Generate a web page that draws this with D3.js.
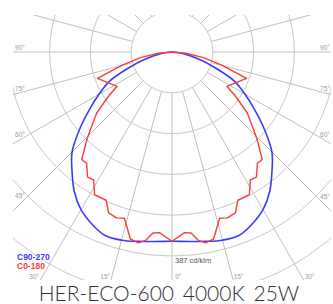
<!DOCTYPE html>
<html>
<head>
<meta charset="utf-8">
<script src="https://cdn.jsdelivr.net/npm/d3@7"></script>
<style>
  body { margin: 0; background: #fff; }
</style>
</head>
<body>
<div id="chart"></div>
<script>
// luminous intensity in cd/klm, angle measured from nadir (deg)
const blueAngles = [0, 5, 10, 15, 20, 25, 30, 35, 40, 45, 50, 55, 60, 65, 70, 75, 80, 85, 90];
const blueValues = [371, 373, 377, 382, 383, 372, 357, 334, 305, 277, 237, 198, 165, 135, 90, 55, 28, 10, 0];

const redAngles = [0, 4, 6, 8, 10, 12.5, 16, 18.5, 21.5, 24, 28.5, 31.5, 34, 37.5, 40, 44, 46, 51, 55, 58, 70.5, 75, 80, 85, 90];
const redValues = [371, 355, 357, 373, 380, 376, 339, 343, 339, 318, 318, 294, 296, 275, 275, 241, 224, 190, 153, 127, 155, 102, 63, 27, 0];

const ringValues = [80, 160, 240, 320, 400, 480, 560];
const spokeAngles = d3.range(0, 360, 15);
const labelAngles = [0, 15, 30, 45, 60, 75, 90];
const legendLabels = ["C90-270", "C0-180"];
const legendColors = ["#3b3bff", "#ff3b3b"];
const scaleText = "387 cd/klm";
const maxValue = 387;
const titleText = "HER-ECO-600 4000K 25W";

const W = 333, H = 304;
const cx = 172, cy = 52;
const plot = { x0: 13, y0: 15, x1: 331, y1: 280 };

const rScale = d3.scaleLinear().domain([0, 400]).range([0, 204]);
const rad = d => d * Math.PI / 180;

const svg = d3.select("#chart").append("svg")
  .attr("width", W).attr("height", H)
  .style("display", "block");

svg.append("clipPath").attr("id", "clip")
  .append("rect")
  .attr("x", plot.x0).attr("y", plot.y0)
  .attr("width", plot.x1 - plot.x0).attr("height", plot.y1 - plot.y0);

const g = svg.append("g").attr("clip-path", "url(#clip)");
const c = g.append("g").attr("transform", `translate(${cx},${cy})`);

// rings
c.selectAll("circle.ring")
  .data(ringValues)
  .enter().append("circle")
  .attr("class", "ring")
  .attr("r", d => rScale(d))
  .attr("fill", "none")
  .attr("stroke", "#c8c8c8")
  .attr("stroke-width", 1);

// spokes start on the inner circle
const r0 = rScale(ringValues[0]);
c.selectAll("line.spoke")
  .data(spokeAngles)
  .enter().append("line")
  .attr("class", "spoke")
  .attr("x1", d => r0 * Math.sin(rad(d)))
  .attr("y1", d => r0 * Math.cos(rad(d)))
  .attr("x2", d => 400 * Math.sin(rad(d)))
  .attr("y2", d => 400 * Math.cos(rad(d)))
  .attr("stroke", "#c0c0c0")
  .attr("stroke-width", 1);

// full curve: left half (C180 / C270) then right half
const fullCurve = (angles, values) => {
  const left = angles.map((a, i) => [Math.PI + rad(a), rScale(values[i])]).reverse();
  const right = angles.slice(1).map((a, i) => [Math.PI - rad(a), rScale(values[i + 1])]);
  return left.concat(right);
};

c.append("path")
  .datum(fullCurve(blueAngles, blueValues))
  .attr("d", d3.lineRadial().curve(d3.curveCatmullRom))
  .attr("fill", "none")
  .attr("stroke", legendColors[0])
  .attr("stroke-width", 1.6);

c.append("path")
  .datum(fullCurve(redAngles, redValues))
  .attr("d", d3.lineRadial())
  .attr("fill", "none")
  .attr("stroke", legendColors[1])
  .attr("stroke-width", 1.4)
  .attr("stroke-linejoin", "round");

// angle labels, sitting just beside each spoke at the plot edge
const labelPos = (a, side) => {
  const t = rad(a + 1.6);
  const dx = Math.sin(t) * side, dy = Math.cos(t);
  let k = Infinity;
  if (dx < 0) k = Math.min(k, (cx - 20) / -dx);
  if (dx > 0) k = Math.min(k, (325 - cx) / dx);
  if (dy > 0) k = Math.min(k, (276 - cy) / dy);
  return [cx + dx * k, cy + dy * k];
};
const labels = labelAngles.filter(a => a > 0).map(a => ({ a, side: -1 }))
  .concat(labelAngles.map(a => ({ a, side: 1 })));

svg.selectAll("text.angle")
  .data(labels)
  .enter().append("text")
  .attr("class", "angle")
  .attr("x", d => labelPos(d.a, d.side)[0])
  .attr("y", d => labelPos(d.a, d.side)[1])
  .attr("text-anchor", "middle")
  .attr("dominant-baseline", "central")
  .attr("font-family", "Liberation Sans, Arial, sans-serif")
  .attr("font-size", 6.5)
  .attr("fill", "#9a9a9a")
  .text(d => d.a + "°");

// scale label under the curves
svg.append("text")
  .attr("x", cx + 3)
  .attr("y", cy + rScale(maxValue) + 14)
  .attr("font-family", "Liberation Sans, Arial, sans-serif")
  .attr("font-size", 7.5)
  .attr("fill", "#555")
  .text(scaleText);

// legend
svg.selectAll("text.legend")
  .data(legendLabels)
  .enter().append("text")
  .attr("class", "legend")
  .attr("x", 17)
  .attr("y", (d, i) => 260 + i * 8.5)
  .attr("font-family", "Liberation Sans, Arial, sans-serif")
  .attr("font-weight", "bold")
  .attr("font-size", 8.5)
  .attr("fill", (d, i) => legendColors[i])
  .text(d => d);

// title
svg.append("text")
  .attr("x", 169)
  .attr("y", 301)
  .attr("text-anchor", "middle")
  .attr("font-family", "Lato, sans-serif")
  .attr("font-weight", 300)
  .attr("font-size", 21)
  .attr("word-spacing", 3)
  .attr("fill", "#333")
  .text(titleText);
</script>
</body>
</html>
